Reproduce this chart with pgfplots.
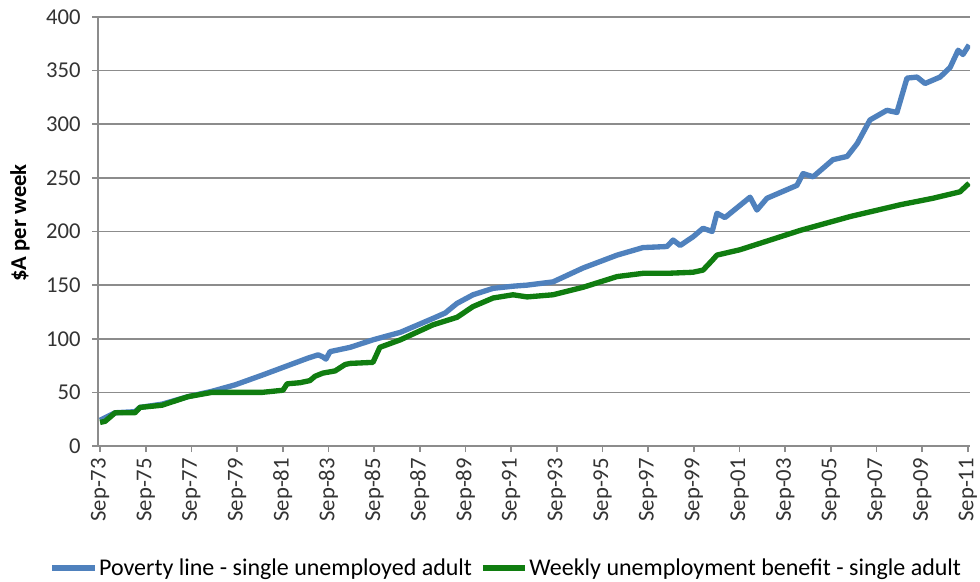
\documentclass[border=0pt]{standalone}
\usepackage{fontspec}
\setmainfont{Carlito}
\usepackage{pgfplots}
\pgfplotsset{compat=1.18}
\definecolor{povblue}{RGB}{79,129,189}
\definecolor{bengreen}{RGB}{16,125,16}
\definecolor{gridgray}{RGB}{140,140,140}
\begin{document}
\begin{tikzpicture}
\begin{axis}[
  at={(0,0)}, anchor=south west,
  scale only axis,
  width=654pt, height=321.75pt,
  xmin=1973.66, xmax=2011.84,
  ymin=0, ymax=400,
  axis x line*=bottom, axis y line*=left,
  axis line style={-, gridgray, line width=1.2pt},
  ytick={0,50,100,150,200,250,300,350,400},
  xtick={1973.75,1975.75,1977.75,1979.75,1981.75,1983.75,1985.75,1987.75,1989.75,1991.75,1993.75,1995.75,1997.75,1999.75,2001.75,2003.75,2005.75,2007.75,2009.75,2011.75},
  xticklabels={Sep-73,Sep-75,Sep-77,Sep-79,Sep-81,Sep-83,Sep-85,Sep-87,Sep-89,Sep-91,Sep-93,Sep-95,Sep-97,Sep-99,Sep-01,Sep-03,Sep-05,Sep-07,Sep-09,Sep-11},
  ymajorgrids=true,
  grid style={gridgray, line width=1.2pt},
  tick align=outside,
  major tick length=4.5pt,
  tick style={gridgray, line width=1.2pt},
  /pgf/number format/assume math mode=true,
  tick label style={font=\fontsize{17}{20}\selectfont, color=black!80},
  xticklabel style={rotate=90, anchor=east, xshift=-1pt},
  yticklabel style={xshift=-5pt},
  ylabel={\textbf{\$A per week}},
  ylabel style={at={(axis description cs:-0.0895,0.52)}, anchor=center, font=\fontsize{17}{20}\selectfont},
  legend columns=2,
  legend style={at={(0.468,-0.284)}, anchor=center, draw=none, fill=none,
    font=\fontsize{18}{21}\selectfont, inner sep=0pt,
    nodes={inner sep=1pt},
    /tikz/every even column/.append style={column sep=5pt}},
  legend image code/.code={\draw[#1] (0pt,0pt) -- (32pt,0pt);},
]
\addplot[povblue, line width=4pt, line join=round] coordinates {
(1973.75,24) (1974.41,31) (1975.28,32) (1975.5,36) (1976.46,39) (1977.6,46)
(1978.65,51) (1979.66,57) (1980.84,66) (1981.85,74) (1982.86,82) (1983.3,85)
(1983.51,83) (1983.64,81) (1983.82,88) (1984.7,92) (1985.7,99) (1986.9,106)
(1988.33,119) (1988.86,124) (1989.38,133) (1990.08,141) (1990.96,147) (1991.83,149)
(1992.45,150) (1993.58,153) (1994.9,166) (1996.39,178) (1997.52,185) (1998.57,186)
(1998.84,192) (1999.15,187) (1999.71,195) (2000.15,203) (2000.55,200) (2000.76,217)
(2001.11,213) (2002.21,232) (2002.51,220) (2002.95,231) (2004.26,243) (2004.53,254)
(2004.97,251) (2005.84,267) (2006.46,270) (2006.9,282) (2007.46,304) (2008.2,313)
(2008.64,311) (2009.08,343) (2009.52,344) (2009.87,338) (2010.53,344) (2010.97,353)
(2011.32,369) (2011.53,365) (2011.8,374)
};
\addlegendentry{Poverty line - single unemployed adult}
\addplot[bengreen, line width=4pt, line join=round] coordinates {
(1973.75,22) (1973.97,23) (1974.41,31) (1975.28,31) (1975.5,36) (1976.46,38)
(1977.6,46) (1978.65,50) (1979.66,50) (1980.84,50) (1981.76,52) (1981.94,58)
(1982.5,59) (1982.94,61) (1983.16,65) (1983.51,68) (1984.04,70) (1984.48,76)
(1984.7,77) (1985.7,78) (1986.0,92) (1986.9,99) (1988.33,113) (1989.38,120)
(1990.08,130) (1990.96,138) (1991.83,141) (1992.45,139) (1993.58,141) (1994.9,148)
(1996.39,158) (1997.52,161) (1998.57,161) (1999.71,162) (2000.15,164) (2000.55,173)
(2000.76,178) (2001.77,183) (2004.4,201) (2006.6,214) (2008.8,225) (2010.22,231)
(2011.4,237) (2011.8,245)
};
\addlegendentry{Weekly unemployment benefit - single adult}
\end{axis}
\pgfresetboundingbox
\path (-73.5pt,-101.25pt) rectangle (661.5pt,334.5pt);
\end{tikzpicture}
\end{document}
